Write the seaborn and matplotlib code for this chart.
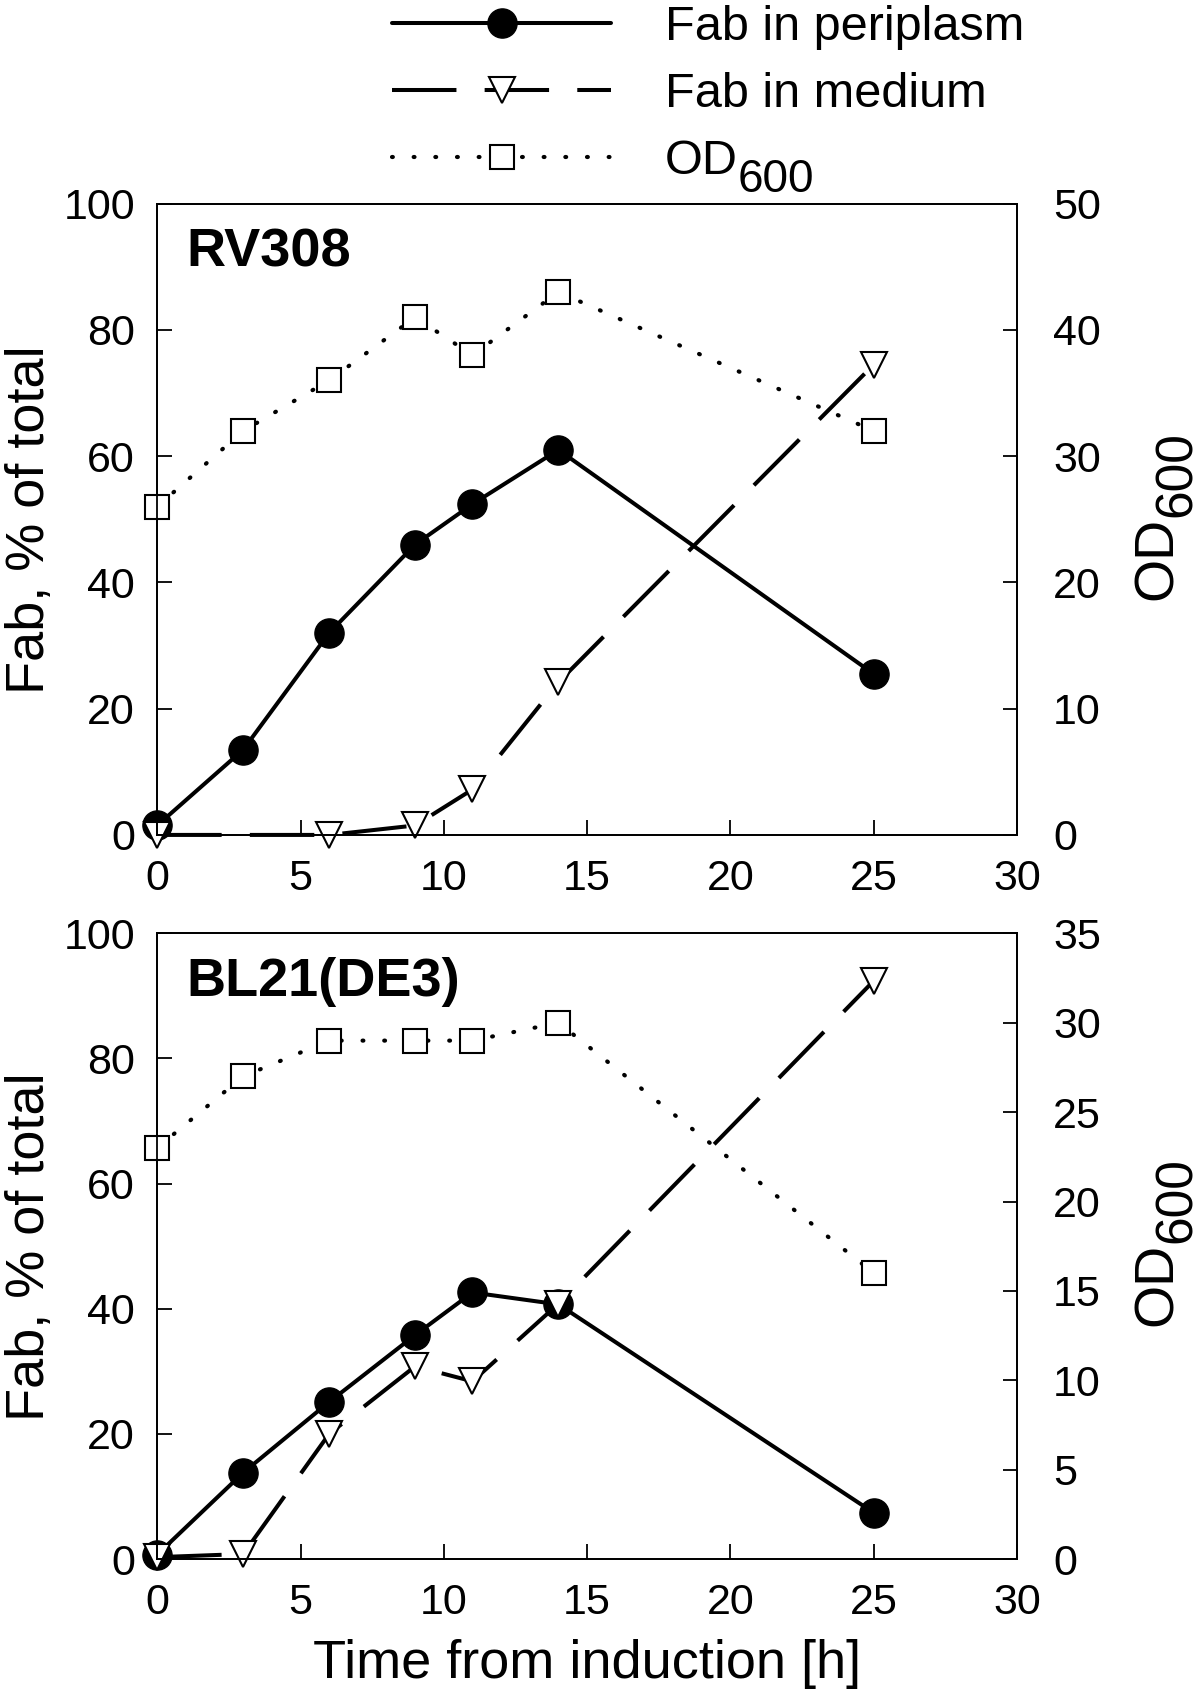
import matplotlib
matplotlib.use("Agg")
import matplotlib.pyplot as plt
import seaborn as sns
from matplotlib.lines import Line2D

# time after induction [h]
time = [0, 3, 6, 9, 11, 14, 25]

# RV308
rv_periplasm = [1.5, 13.5, 32, 46, 52.4, 61, 25.5]
rv_medium_time = [0, 6, 9, 11, 14, 25]
rv_medium = [0, 0, 1.5, 7.2, 24.2, 74.5]
rv_od = [26, 32, 36, 41, 38, 43, 32]

# BL21(DE3)
bl_periplasm = [0.7, 13.8, 25.1, 35.8, 42.6, 40.7, 7.4]
bl_medium_time = [0, 3, 6, 9, 11, 14, 25]
bl_medium = [0.3, 0.8, 20, 30.8, 28.4, 40.8, 92.4]
bl_od = [23, 27, 29, 29, 29, 30, 16]

x_ticks = [0, 5, 10, 15, 20, 25, 30]
left_ticks = [0, 20, 40, 60, 80, 100]
rv_right_ticks = [0, 10, 20, 30, 40, 50]
bl_right_ticks = [0, 5, 10, 15, 20, 25, 30, 35]

labels = ["Fab in periplasm", "Fab in medium", "OD"]
od_sub = "600"

sns.set_style("white")
plt.rcParams["font.family"] = ["Liberation Sans", "DejaVu Sans"]
for key in ["axes.edgecolor", "text.color", "axes.labelcolor", "xtick.color", "ytick.color"]:
    plt.rcParams[key] = "black"

peri_kw = dict(color="black", lw=2.9, marker="o", markersize=21, mec="black", mew=1, mfc="black",
               clip_on=False)
med_kw = dict(color="black", lw=2.9, linestyle=(0, (16, 7)), marker="v", markersize=19,
              mec="black", mew=1.5, mfc="white", clip_on=False)
od_kw = dict(color="black", lw=3.0, linestyle=(0, (0.2, 5.0)), dash_capstyle="round",
             marker="s", markersize=17, mec="black", mew=1.5, mfc="white", clip_on=False)

fig = plt.figure(figsize=(12, 16.97), dpi=100)
ax_top = fig.add_axes([0.131, 0.508, 0.7165, 0.372])
ax_bot = fig.add_axes([0.131, 0.0813, 0.7165, 0.3687])

panels = [
    (ax_top, "RV308", rv_periplasm, rv_medium_time, rv_medium, rv_od, 50, rv_right_ticks),
    (ax_bot, "BL21(DE3)", bl_periplasm, bl_medium_time, bl_medium, bl_od, 35, bl_right_ticks),
]

od_labels = []
for ax, name, peri, mt, med, od, od_max, rticks in panels:
    sns.lineplot(x=time, y=peri, ax=ax, **peri_kw)
    sns.lineplot(x=mt, y=med, ax=ax, **med_kw)
    ax.set_xlim(0, 30)
    ax.set_ylim(0, 100)
    ax.set_xticks(x_ticks)
    ax.set_yticks(left_ticks)
    ax.tick_params(axis="x", direction="in", length=11, width=1.3, pad=17, labelsize=31,
                   bottom=True, top=False)
    ax.tick_params(axis="y", direction="in", length=11, width=1.3, pad=16, labelsize=31,
                   left=True, right=False)
    ax.set_ylabel("Fab, % of total", fontsize=39)
    ax.yaxis.set_label_coords(-0.119, 0.5)
    ax.text(0.034, 0.962, name, transform=ax.transAxes, fontsize=39, fontweight="bold",
            va="top", ha="left")

    ax2 = ax.twinx()
    sns.lineplot(x=time, y=od, ax=ax2, **od_kw)
    ax2.set_ylim(0, od_max)
    ax2.set_yticks(rticks)
    ax2.tick_params(axis="y", direction="in", length=10, width=1.3, pad=26, labelsize=31,
                    right=True)
    ax2.set_ylabel("")
    t = ax2.text(1.134, 0.372, "OD", transform=ax2.transAxes, rotation=90, fontsize=40,
                 ha="left", va="bottom")
    od_labels.append(t)
    for a in (ax, ax2):
        for s in a.spines.values():
            s.set_visible(True)
            s.set_linewidth(1.3)
            s.set_color("black")

ax_bot.set_xlabel("Time from induction [h]", fontsize=39, labelpad=12)

handles = [
    Line2D([], [], **peri_kw),
    Line2D([], [], **med_kw),
    Line2D([], [], **od_kw),
]
leg = fig.legend(handles, labels, loc="upper left", bbox_to_anchor=(0.327, 0.997), frameon=False,
                 fontsize=35, handlelength=4.5, handletextpad=1.1, labelspacing=0.45,
                 borderpad=0, borderaxespad=0, numpoints=1)

# subscripts at nearly full size, placed after the rendered "OD" texts
fig.canvas.draw()
renderer = fig.canvas.get_renderer()
W, H = fig.bbox.width, fig.bbox.height
for t in od_labels:
    bb = t.get_window_extent(renderer)
    fig.text((bb.x1 + 18) / W, bb.y1 / H, od_sub, rotation=90, fontsize=37,
             ha="right", va="bottom")
bb = leg.get_texts()[2].get_window_extent(renderer)
fig.text(bb.x1 / W, (bb.y0 - 18) / H, od_sub, fontsize=33, ha="left", va="bottom")

fig.savefig("out.png", dpi=100)
